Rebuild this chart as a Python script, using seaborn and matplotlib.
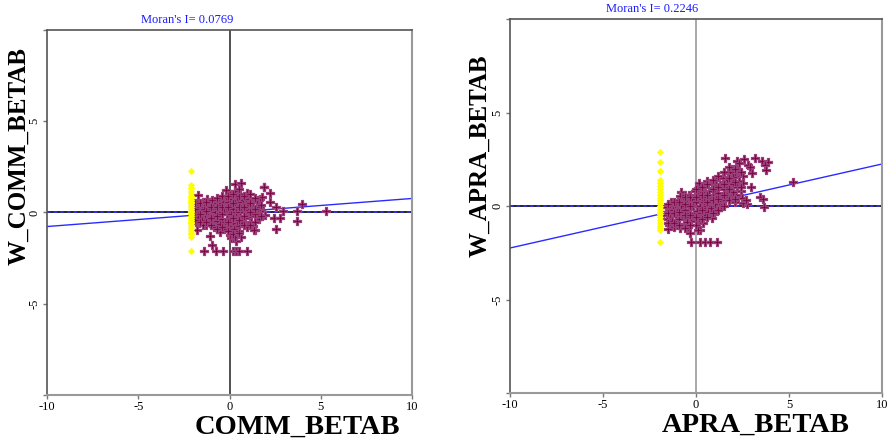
import matplotlib
matplotlib.use("Agg")
import matplotlib.pyplot as plt
import seaborn as sns
import pandas as pd

sns.set_style("white")
plt.rcParams['font.family'] = ['Liberation Serif', 'DejaVu Serif']
plt.rcParams['text.color'] = 'black'
plt.rcParams['xtick.color'] = 'black'
plt.rcParams['ytick.color'] = 'black'

# ---------------- data: left panel (COMM_BETAB) ----------------
comm_moran = 0.0769
comm_x = [-1.95, -1.95, -1.9, -1.85, -1.8, -1.75, -1.7, -1.65, -1.6, -1.55, -1.5, -1.45, -1.4, -1.35,
          -1.3, -1.25, -1.2, -1.15, -1.1, -1.05, -1.0, -1.0,
          -0.95, -0.9, -0.85, -0.8, -0.75, -0.7, -0.65, -0.6, -0.55, -0.5, -0.5, -0.45, -0.4, -0.35, -0.3, -0.3,
          -0.25, -0.2, -0.2, -0.15, -0.1, -0.1, -0.05, 0.0, 0.0, 0.05, 0.1, 0.1, 0.15, 0.2, 0.2, 0.25, 0.3, 0.3,
          0.3, 0.35, 0.4, 0.4, 0.45, 0.5, 0.5, 0.55, 0.6, 0.6, 0.65, 0.7, 0.75, 0.8, 0.85, 0.9, 0.95, 1.0, 1.05,
          1.1, 1.15, 1.2, 1.25, 1.3, 1.4, 1.5, 1.6, 1.7,
          0.1, 0.25, 0.4, 0.35, 0.5, 0.0,
          0.30, 0.61, -0.19, -1.71, -1.25, 1.91, 2.22, 3.95, 2.95, 3.68, 5.29, 3.68, 2.44, 2.77, 2.55, 1.95,
          -1.40, -0.76, -0.34, 0.21, 0.36, 0.54, 0.94, -0.98, -0.52, -1.07, 0.30, 0.61, 1.27, 1.40, -1.80, -1.47,
          -0.70, -0.98, 0.94, 1.49, 1.67, 1.89, 1.67, 1.80, 2.22, 2.55, 1.34,
          -1.9, -1.9, -1.9, -1.6, -1.6, -1.6, -1.3, -1.3, -1.3, -1.0, -1.0, -1.0,
          -0.7, -0.7, -0.7, -0.7, -0.4, -0.4, -0.4, -0.4, -0.1, -0.1, -0.1, -0.1,
          0.2, 0.2, 0.2, 0.2, 0.5, 0.5, 0.5, 0.5, 0.5, 0.8, 0.8, 0.8, 0.8,
          1.1, 1.1, 1.1, 1.1, 1.4, 1.4, 1.4, 1.7, 1.7]
comm_wy = [0.3, -0.2, 0.05, -0.5, 0.45, 0.15, -0.25, -0.6, 0.3, 0.0, -0.4, 0.55, 0.2, -0.15,
           -0.7, 0.4, 0.0, -0.35, 0.25, -0.55, 0.6, 0.05,
           -0.25, 0.35, -0.8, 0.0, 0.55, -0.45, 0.2, -0.15, 0.75, -0.65, 0.4, 0.0, -0.35, 0.6, 0.15, -0.9,
           -0.5, 0.9, 0.35, -0.1, 0.6, -0.75, 0.1, -0.35, 1.0, 0.45, -0.1, -1.1, 0.75, 0.2, -0.55, -0.9, 1.2, 0.5,
           -0.2, 0.0, 0.85, -0.45, 0.3, -0.75, 0.05, 0.6, -0.25, 1.0, 0.25, -0.55, 0.7, 0.0, -0.3, 0.45, -0.8, 0.15, 0.75,
           -0.2, 0.4, -0.5, 0.1, 0.55, -0.1, 0.3, -0.35, 0.1,
           -1.4, -1.3, -1.2, -1.55, -1.0, -1.25,
           1.56, 1.63, 1.23, 0.96, 0.72, 1.41, 1.05, 0.47, 0.07, 0.07, 0.07, -0.47, -0.28, -0.32, -0.89, -0.14,
           -2.09, -2.09, -2.09, -2.09, -2.09, -2.09, -2.09, -1.78, -1.05, -1.29, -1.36, -1.36, -0.74, -0.96, -0.96, -0.68,
           0.50, 0.68, 1.05, 0.68, 0.32, 1.38, 0.72, 0.85, 0.59, 0.32, -0.96,
           -0.4, 0.2, 0.5, -0.5, -0.1, 0.5, -0.5, 0.1, 0.6, -0.7, -0.3, 0.3,
           -0.9, -0.2, 0.3, 0.8, -0.8, -0.1, 0.3, 0.9, -1.0, -0.5, 0.3, 0.9,
           -1.2, -0.3, 0.5, 1.0, -1.1, -0.4, 0.3, 0.9, 1.3, -0.7, -0.2, 0.3, 0.9,
           -0.7, 0.0, 0.5, 1.0, -0.5, 0.2, 0.8, -0.2, 0.4]
comm_sel_x = [-2.13] * 29
comm_sel_wy = [2.29, 1.5, 1.35, 1.2, 1.05, 0.9, 0.8, 0.7, 0.6, 0.5, 0.4, 0.3, 0.2, 0.1, 0.0,
               -0.1, -0.2, -0.3, -0.4, -0.5, -0.6, -0.7, -0.8, -0.9, -1.0, -1.1, -1.2, -1.35, -2.09]

# ---------------- data: right panel (APRA_BETAB) ----------------
apra_moran = 0.2246
apra_x = [-1.6, -1.55, -1.5, -1.45, -1.4, -1.35, -1.3, -1.25, -1.2, -1.15, -1.1, -1.05, -1.0, -0.95, -0.9,
          -0.85, -0.8, -0.75, -0.7, -0.65, -0.6, -0.55, -0.5, -0.45, -0.4, -0.35, -0.3, -0.25, -0.2, -0.15,
          -0.1, -0.05, 0.0, 0.0, 0.05, 0.1, 0.15, 0.2, 0.2, 0.25, 0.3, 0.35, 0.4, 0.4, 0.45, 0.5, 0.5, 0.55,
          0.6, 0.65, 0.7, 0.75, 0.8, 0.85, 0.9, 0.95, 1.0, 1.0, 1.05, 1.1, 1.15, 1.2, 1.25, 1.3, 1.35, 1.4,
          1.45, 1.5, 1.55, 1.6, 1.65, 1.7, 1.75, 1.8, 1.85, 1.9, 1.95, 2.0, 2.05, 2.1, 2.2, 2.25, 2.3, 2.4, 2.5,
          1.56, 2.19, 2.58, 3.17, 2.81, 3.53, 3.89, 3.71, 3.76, 5.20, 2.54, 2.94, 3.44, 3.62, 3.67, 2.72, 2.15,
          2.01, 0.61, 0.18, -0.82, -0.86, -1.58, -1.79, -1.52, -0.32, 0.22, 0.84, -0.29, 0.22, 0.48, 0.75, 1.11,
          -0.50, -1.04, 2.33, 2.90, 2.99, 1.83, 1.65, 2.01, 2.54, 2.10, 2.45, 2.7, 0.1, -0.6,
          -1.5, -1.5, -1.5, -1.2, -1.2, -1.2, -0.9, -0.9, -0.9, -0.6, -0.6, -0.6, -0.6,
          -0.3, -0.3, -0.3, -0.3, 0.0, 0.0, 0.0, 0.3, 0.3, 0.3, 0.3, 0.6, 0.6, 0.6, 0.6,
          0.9, 0.9, 0.9, 0.9, 1.2, 1.2, 1.2, 1.2, 1.5, 1.5, 1.5, 1.5, 1.8, 1.8, 1.8, 1.8,
          2.1, 2.1, 2.1, 2.4, 2.4]
apra_wy = [-0.3, -0.7, 0.0, -1.0, -0.45, 0.2, -0.8, -0.2, -1.1, 0.1, -0.55, -0.9, -0.25, 0.3, -0.7,
           -1.2, 0.0, -0.45, 0.5, -0.95, -0.2, 0.25, -0.6, -1.1, 0.1, 0.6, -0.35, -0.8, 0.35, 0.0,
           -0.5, 0.8, -1.0, 0.2, -0.25, 0.55, -0.7, 1.0, 0.0, -0.4, 0.35, -0.9, 0.75, -0.1, 0.2, -0.5, 1.1, 0.5,
           0.0, -0.3, 0.8, 0.3, -0.1, 1.25, 0.55, -0.45, 0.1, 0.95, 0.4, 1.4, -0.2, 0.7, 0.25, 1.1, -0.05, 0.55,
           1.5, 0.9, 0.3, 1.25, 0.6, 1.75, 1.0, 0.4, 1.45, 0.8, 2.0, 1.2, 0.6, 1.6, 1.0, 1.9, 1.35, 0.8, 1.6,
           2.55, 2.42, 2.50, 2.55, 2.19, 2.41, 2.37, 2.19, 1.93, 1.30, 1.21, 1.00, 0.50, 0.36, -0.07, 0.11, 0.59,
           0.77, 1.35, 1.25, 0.77, 0.53, -0.07, -0.48, -1.25, -1.46, -1.28, -0.66, -1.91, -1.91, -1.91, -1.91, -1.91,
           -0.84, -0.30, 2.28, 2.10, 1.78, 1.83, 1.39, 1.57, 0.18, 0.23, 0.45, 0.3, -1.3, 0.6,
           -0.9, -0.4, 0.1, -0.9, -0.4, 0.2, -1.0, -0.3, 0.2, -1.2, -0.5, 0.1, 0.5,
           -1.0, -0.5, 0.0, 0.5, -0.6, 0.5, 0.9, -0.7, -0.2, 0.6, 1.0, -0.6, 0.2, 0.6, 1.2,
           -0.4, 0.3, 0.9, 1.4, -0.2, 0.4, 1.0, 1.6, 0.0, 0.6, 1.2, 1.8, 0.3, 0.9, 1.5, 2.1,
           0.4, 1.3, 2.0, 1.0, 1.8]
apra_sel_x = [-1.94] * 23
apra_sel_wy = [2.90, 2.34, 1.89, 1.39, 1.21, 1.05, 0.9, 0.75, 0.6, 0.45, 0.3, 0.15, 0.0,
               -0.15, -0.3, -0.45, -0.6, -0.75, -0.9, -1.05, -1.2, -1.28, -1.91]

x_ticks = [-10, -5, 0, 5, 10]
x_ticklabels = ['-10', '-5', '0', '5', '10']
y_ticks = [-10, -5, 0, 5, 10]
y_ticklabels = ['', '-5', '0', '5', '']

MAROON = '#7a0040'
YELLOW = '#ffff00'
BLUE = '#2b2bff'

W, H = 890, 445
fig = plt.figure(figsize=(W / 100, H / 100), dpi=100)


def panel(box, xs, ys, sx, sy, moran, xlabel, ylabel, vcol, title_xy, xlab_xy, ylab_xy):
    l, t, r, b = box
    ax = fig.add_axes([l / W, 1 - b / H, (r - l) / W, (b - t) / H])
    ax.set_xlim(-10, 10)
    ax.set_ylim(-10, 10)
    ax.axvline(0, color=vcol, lw=1.2, zorder=1)
    ax.axhline(0, color='black', lw=1.2, zorder=1)
    ax.axhline(0, color='#3030ff', lw=1.2, ls=(0, (2, 2)), zorder=1.1)
    lx = pd.DataFrame({'x': x_ticks[::4]})
    lx['y'] = moran * lx['x']
    sns.lineplot(data=lx, x='x', y='y', ax=ax, color=BLUE, lw=1, zorder=1.2)
    df = pd.DataFrame({'x': xs, 'wy': ys})
    sns.scatterplot(data=df, x='x', y='wy', ax=ax, marker='P', s=40, color=MAROON,
                    linewidth=0.9, edgecolor='#9a4078', zorder=2)
    ds = pd.DataFrame({'x': sx, 'wy': sy})
    sns.scatterplot(data=ds, x='x', y='wy', ax=ax, marker='D', s=14, color=YELLOW,
                    linewidth=0, zorder=3)
    ax.set_xlabel('')
    ax.set_ylabel('')
    ax.set_xticks(x_ticks)
    ax.set_xticklabels(x_ticklabels, fontsize=9)
    ax.set_yticks(y_ticks)
    ax.set_yticklabels(y_ticklabels, fontsize=9, rotation=90, va='center')
    ax.tick_params(axis='both', length=3, width=1, color='#777777', direction='out', pad=1.5,
                   bottom=True, left=True)
    for s in ['left', 'top']:
        ax.spines[s].set_color('#555555')
        ax.spines[s].set_linewidth(1.2)
    for s in ['right', 'bottom']:
        ax.spines[s].set_color('#999999')
        ax.spines[s].set_linewidth(1.5)
    fig.text(title_xy[0] / W, 1 - title_xy[1] / H, f"Moran's I= {moran:.4f}", color='#1a1aff',
             fontsize=9, ha='center', va='center')
    fig.text(xlab_xy[0] / W, 1 - xlab_xy[1] / H, xlabel, fontsize=20.5, fontweight='bold',
             ha='center', va='center', color='black')
    fig.text(ylab_xy[0] / W, 1 - ylab_xy[1] / H, ylabel, fontsize=18, fontweight='bold',
             ha='center', va='center', rotation=90, color='black')
    return ax


panel((47, 30, 412, 395), comm_x, comm_wy, comm_sel_x, comm_sel_wy, comm_moran,
      'COMM_BETAB', 'W_COMM_BETAB', '#333333', (187, 20), (297, 427), (19, 156))
panel((510, 19, 882, 393), apra_x, apra_wy, apra_sel_x, apra_sel_wy, apra_moran,
      'APRA_BETAB', 'W_APRA_BETAB', '#999999', (652, 9), (756, 425), (480, 156))

fig.savefig('out.png', dpi=100)
